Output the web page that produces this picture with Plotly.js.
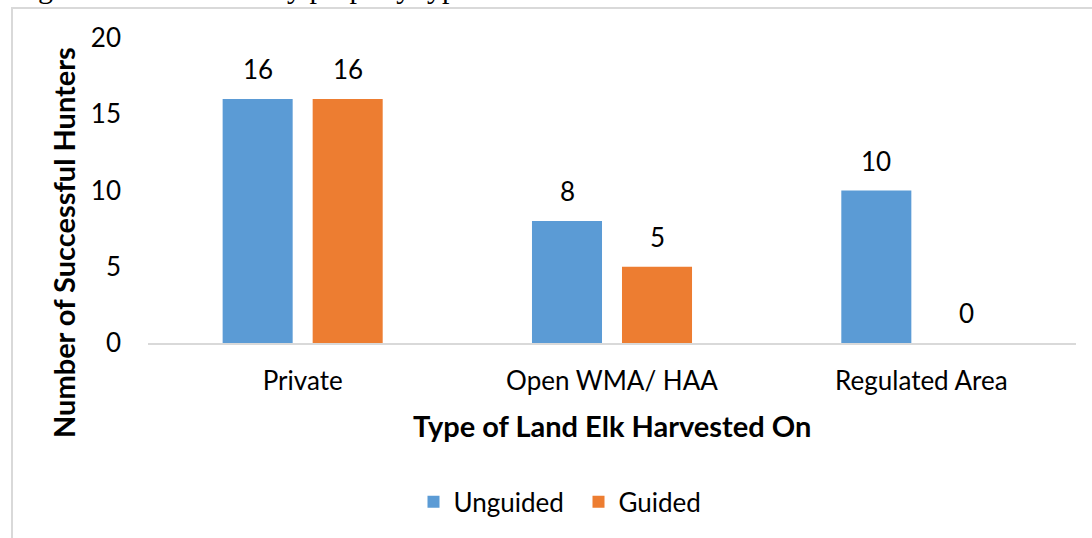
<!DOCTYPE html>
<html>
<head>
<meta charset="utf-8">
<script src="https://cdn.plot.ly/plotly-3.0.1.min.js"></script>
<style>
  html, body { margin: 0; padding: 0; width: 1092px; height: 538px; overflow: hidden; background: #fff; }
  #frame { position: absolute; left: 11px; top: 7px; width: 1200px; height: 700px;
           border-left: 2px solid #d9d9d9; border-top: 2px solid #d9d9d9; }
  #caption { position: absolute; left: 13px; top: -27px; font-family: "Liberation Serif", "Times New Roman", serif;
             font-size: 30px; line-height: 30px; white-space: nowrap; color: #000; }
  #chart { position: absolute; left: 0; top: 0; width: 1092px; height: 538px; }
</style>
</head>
<body>
<div id="caption">Figure 4. Elk harvest by property type</div>
<div id="frame"></div>
<div id="chart"></div>
<script>
const categories = ['Private', 'Open WMA/ HAA', 'Regulated Area'];
const unguided = [16, 8, 10];
const guided = [16, 5, 0];
const yTickVals = [0, 5, 10, 15, 20];
const seriesNames = ['Unguided', 'Guided'];
const seriesColors = ['#5B9BD5', '#ED7D31'];

const FONT = 'Lato, "Open Sans", sans-serif';

const traces = [
  { type: 'bar', name: seriesNames[0], x: categories, y: unguided,
    marker: { color: seriesColors[0] }, hoverinfo: 'none' },
  { type: 'bar', name: seriesNames[1], x: categories, y: guided,
    marker: { color: seriesColors[1] }, hoverinfo: 'none' }
];

const labelAnn = [];
[unguided, guided].forEach((vals, s) => {
  vals.forEach((v, i) => {
    labelAnn.push({
      x: categories[i], y: v, xref: 'x', yref: 'y',
      text: String(v), showarrow: false,
      xshift: s === 0 ? -45 : 45, yshift: 12, yanchor: 'bottom',
      font: { family: FONT, size: 26, color: '#000' }
    });
  });
});

const layout = {
  width: 1092, height: 538,
  margin: { l: 148, r: 16, t: 38, b: 195 },
  paper_bgcolor: 'rgba(0,0,0,0)',
  plot_bgcolor: 'rgba(0,0,0,0)',
  barmode: 'group',
  bargap: 0.418,
  bargroupgap: 0.222,
  font: { family: FONT, size: 26, color: '#000' },
  xaxis: {
    type: 'category',
    showline: true, linecolor: '#d9d9d9', linewidth: 2,
    showgrid: false, zeroline: false, ticks: '',
    ticklabelstandoff: 14,
    tickfont: { family: FONT, size: 26, color: '#000' }
  },
  yaxis: {
    range: [0, 20],
    tickvals: yTickVals,
    ticktext: yTickVals.map(String),
    showgrid: false, zeroline: false, showline: false, ticks: '',
    ticklabelstandoff: 26,
    tickfont: { family: FONT, size: 26, color: '#000' }
  },
  showlegend: true,
  legend: {
    orientation: 'h', x: 0.2861, xanchor: 'left', y: -0.521, yanchor: 'middle',
    xref: 'paper', yref: 'paper',
    font: { family: FONT, size: 26, color: '#000' },
    itemwidth: 30,
    entrywidth: 120, entrywidthmode: 'pixels'
  },
  annotations: labelAnn.concat([
    { text: '<b>Number of Successful Hunters</b>', xref: 'paper', yref: 'paper',
      x: -0.0916, y: 0.331, textangle: -90, showarrow: false,
      xanchor: 'center', yanchor: 'middle',
      font: { family: FONT, size: 29, color: '#000' } },
    { text: '<b>Type of Land Elk Harvested On</b>', xref: 'paper', yref: 'paper',
      x: 0.5, y: -0.269, showarrow: false, xanchor: 'center', yanchor: 'middle',
      font: { family: FONT, size: 29, color: '#000' } }
  ])
};

Plotly.newPlot('chart', traces, layout, { displayModeBar: false, staticPlot: true });
</script>
</body>
</html>
